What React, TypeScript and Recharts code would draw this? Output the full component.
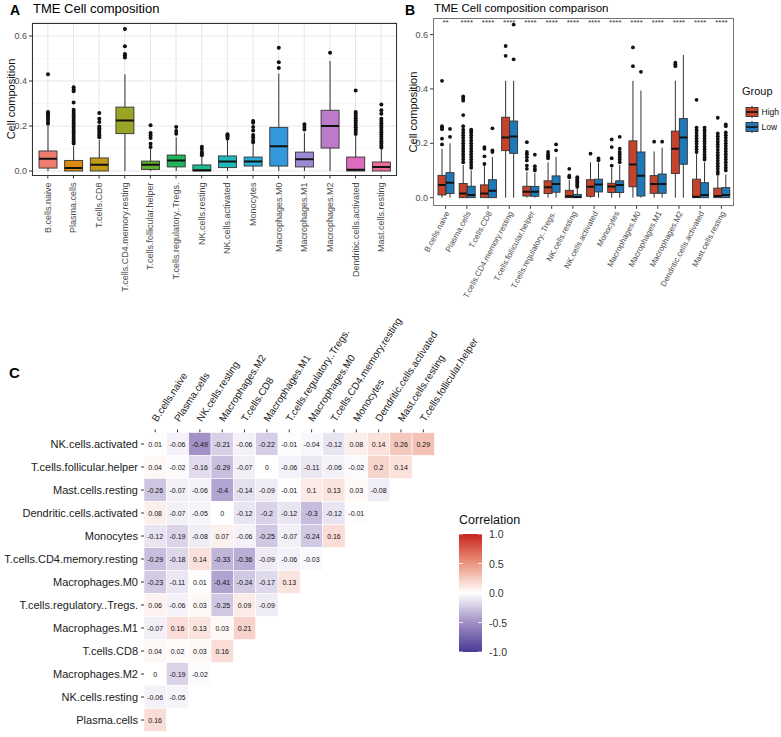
import React from 'react';
import { ComposedChart, ScatterChart, Bar, Scatter, XAxis, YAxis, CartesianGrid } from 'recharts';

// ---- shared categories ----
const CELLS = [
  'B.cells.naive', 'Plasma.cells', 'T.cells.CD8', 'T.cells.CD4.memory.resting',
  'T.cells.follicular.helper', 'T.cells.regulatory..Tregs.', 'NK.cells.resting',
  'NK.cells.activated', 'Monocytes', 'Macrophages.M0', 'Macrophages.M1',
  'Macrophages.M2', 'Dendritic.cells.activated', 'Mast.cells.resting',
];
const CELL_COLORS = [
  '#EE7B6E', '#DB8A0E', '#C29A18', '#9AA528', '#5FAF32', '#21B45A', '#1FB98F',
  '#21B8B8', '#29AEDB', '#3398DC', '#9C89D6', '#BB7BC9', '#DD6CBE', '#EE6B9E',
];
const Y_TICKS = [0, 0.2, 0.4, 0.6];
const MINOR_TICKS = [0.1, 0.3, 0.5];

// ---- panel A: box stats ----
const A_LO = [0, 0, 0, 0, 0, 0, 0, 0, 0, 0, 0, 0, 0, 0];
const A_Q1 = [0.013, 0, 0, 0.166, 0.007, 0.018, 0, 0.015, 0.022, 0.022, 0.018, 0.102, 0, 0];
const A_MED = [0.055, 0.013, 0.028, 0.225, 0.028, 0.047, 0.003, 0.042, 0.042, 0.11, 0.052, 0.2, 0.006, 0.018];
const A_Q3 = [0.089, 0.047, 0.058, 0.284, 0.044, 0.071, 0.027, 0.067, 0.062, 0.194, 0.084, 0.27, 0.062, 0.04];
const A_HI = [0.2, 0.11, 0.138, 0.43, 0.1, 0.15, 0.062, 0.14, 0.12, 0.433, 0.17, 0.489, 0.156, 0.1];
const A_OUT = [
  [0.43, 0.262, 0.256, 0.248, 0.238, 0.228, 0.218, 0.21],
  [0.372, 0.362, 0.355, 0.304, 0.272, 0.262, 0.252, 0.242, 0.232, 0.222, 0.212, 0.202, 0.192, 0.182, 0.172, 0.162, 0.152, 0.142, 0.132, 0.122],
  [0.258, 0.232, 0.218, 0.198, 0.19, 0.182, 0.174, 0.166, 0.158, 0.15],
  [0.631, 0.554, 0.52, 0.514, 0.505],
  [0.203, 0.169, 0.158, 0.147, 0.121, 0.107],
  [0.196, 0.178, 0.166],
  [0.108, 0.098, 0.085, 0.077, 0.07],
  [0.163, 0.158, 0.152, 0.145],
  [0.222, 0.215, 0.196, 0.18, 0.16, 0.15, 0.138, 0.128],
  [0.548, 0.483, 0.458],
  [0.208, 0.196, 0.184],
  [0.526],
  [0.358, 0.262, 0.255, 0.245, 0.235, 0.225, 0.215, 0.205, 0.195, 0.185, 0.175, 0.165],
  [0.296, 0.27, 0.255, 0.232, 0.222, 0.212, 0.202, 0.192, 0.182, 0.172, 0.162, 0.152, 0.142, 0.132, 0.122, 0.112, 0.104],
];

// ---- panel B: High / Low groups ----
const GROUPS = ['High', 'Low'];
const GROUP_COLORS = ['#C4432B', '#1F78B8'];
const SIG = ['**', '****', '****', '****', '****', '****', '****', '****', '****', '****', '****', '****', '****', '****'];
const SIG_POS = 0.65;

const H_LO = [0, 0, 0, 0, 0, 0, 0, 0, 0, 0, 0, 0, 0, 0];
const H_Q1 = [0.01, 0, 0, 0.173, 0.006, 0.015, 0, 0.005, 0.019, 0.04, 0.016, 0.089, 0, 0];
const H_MED = [0.047, 0.015, 0.015, 0.221, 0.022, 0.038, 0.005, 0.04, 0.041, 0.122, 0.05, 0.18, 0.003, 0.006];
const H_Q3 = [0.082, 0.052, 0.047, 0.296, 0.042, 0.062, 0.027, 0.066, 0.053, 0.209, 0.081, 0.245, 0.068, 0.035];
const H_HI = [0.18, 0.12, 0.12, 0.43, 0.095, 0.13, 0.065, 0.13, 0.11, 0.43, 0.17, 0.43, 0.16, 0.08];
const H_OUT = [
  [0.43, 0.263, 0.258, 0.252, 0.217, 0.196],
  [0.373, 0.365, 0.357, 0.304, 0.263, 0.25, 0.24, 0.23, 0.22, 0.21, 0.2, 0.19, 0.18, 0.17, 0.16, 0.15, 0.14, 0.13],
  [0.186, 0.18, 0.152, 0.124],
  [0.558, 0.522],
  [0.204, 0.168, 0.16, 0.149, 0.137, 0.118, 0.106],
  [0.168, 0.159, 0.152, 0.145],
  [0.106, 0.081, 0.075],
  [0.162],
  [0.214, 0.186, 0.145, 0.118],
  [0.553, 0.484],
  [0.206],
  [0.497, 0.491, 0.484],
  [0.36, 0.258, 0.248, 0.238, 0.228, 0.218, 0.208, 0.198, 0.188, 0.178, 0.168],
  [0.294, 0.236, 0.226, 0.216, 0.206, 0.196, 0.186, 0.176, 0.166, 0.156, 0.146, 0.136, 0.126, 0.116, 0.106, 0.096, 0.088],
];

const L_LO = [0, 0, 0, 0, 0, 0, 0, 0, 0, 0, 0, 0, 0, 0];
const L_Q1 = [0.015, 0, 0, 0.163, 0.005, 0.02, 0, 0.021, 0.019, 0.006, 0.016, 0.123, 0, 0];
const L_MED = [0.055, 0.01, 0.025, 0.225, 0.022, 0.05, 0.002, 0.048, 0.047, 0.081, 0.05, 0.221, 0.01, 0.01];
const L_Q3 = [0.092, 0.042, 0.066, 0.282, 0.041, 0.08, 0.012, 0.068, 0.062, 0.168, 0.087, 0.291, 0.055, 0.037];
const L_HI = [0.2, 0.1, 0.15, 0.43, 0.09, 0.15, 0.035, 0.13, 0.12, 0.394, 0.184, 0.525, 0.13, 0.085];
const L_OUT = [
  [0.253, 0.224],
  [0.25, 0.245, 0.24, 0.23, 0.22, 0.21, 0.2, 0.19, 0.18, 0.17, 0.16, 0.15, 0.14, 0.13, 0.12, 0.11],
  [0.255, 0.174, 0.168],
  [0.637, 0.509],
  [0.158, 0.116, 0.106, 0.1],
  [0.196, 0.174],
  [0.075, 0.07, 0.065, 0.06, 0.055, 0.05, 0.045, 0.04],
  [0.144, 0.138],
  [0.224, 0.18, 0.168, 0.16, 0.15, 0.14, 0.13],
  [0.463],
  [0.206],
  [],
  [0.258, 0.248, 0.238, 0.228, 0.218, 0.208, 0.198, 0.188, 0.178, 0.168, 0.158, 0.148, 0.14],
  [0.27, 0.263, 0.24, 0.23, 0.22, 0.21, 0.2, 0.19, 0.18, 0.17, 0.16, 0.15, 0.14, 0.13, 0.12, 0.11, 0.1],
];

// ---- panel C: correlation triangle ----
const COLS = [
  'B.cells.naive', 'Plasma.cells', 'NK.cells.resting', 'Macrophages.M2', 'T.cells.CD8',
  'Macrophages.M1', 'T.cells.regulatory..Tregs.', 'Macrophages.M0', 'T.cells.CD4.memory.resting',
  'Monocytes', 'Dendritic.cells.activated', 'Mast.cells.resting', 'T.cells.follicular.helper',
];
const ROWS = [
  'NK.cells.activated', 'T.cells.follicular.helper', 'Mast.cells.resting', 'Dendritic.cells.activated',
  'Monocytes', 'T.cells.CD4.memory.resting', 'Macrophages.M0', 'T.cells.regulatory..Tregs.',
  'Macrophages.M1', 'T.cells.CD8', 'Macrophages.M2', 'NK.cells.resting', 'Plasma.cells',
];
const CORR = [
  [0.01, -0.06, -0.49, -0.21, -0.06, -0.22, -0.01, -0.04, -0.12, 0.08, 0.14, 0.26, 0.29],
  [0.04, -0.02, -0.16, -0.29, -0.07, 0, -0.06, -0.11, -0.06, -0.02, 0.2, 0.14],
  [-0.26, -0.07, -0.06, -0.4, -0.14, -0.09, -0.01, 0.1, 0.13, 0.03, -0.08],
  [0.08, -0.07, -0.05, 0, -0.12, -0.2, -0.12, -0.3, -0.12, -0.01],
  [-0.12, -0.19, -0.08, 0.07, -0.06, -0.25, -0.07, -0.24, 0.16],
  [-0.29, -0.18, 0.14, -0.33, -0.36, -0.09, -0.06, -0.03],
  [-0.23, -0.11, 0.01, -0.41, -0.24, -0.17, 0.13],
  [0.06, -0.06, 0.03, -0.25, 0.09, -0.09],
  [-0.07, 0.16, 0.13, 0.03, 0.21],
  [0.04, 0.02, 0.03, 0.16],
  [0, -0.19, -0.02],
  [-0.06, -0.05],
  [0.16],
];
const CORR_STOPS = [-1, -0.5, 0, 0.5, 1];
const CORR_RGB = [[74, 58, 148], [160, 143, 198], [255, 255, 255], [236, 150, 128], [200, 36, 30]];
const LEGEND_TICKS = [1, 0.5, 0, -0.5, -1];

const FONT = '"Liberation Sans", Arial, Helvetica, sans-serif';

function corrColor(v: number) {
  let k = 0;
  while (k < CORR_STOPS.length - 2 && v > CORR_STOPS[k + 1]) k++;
  const t = (v - CORR_STOPS[k]) / (CORR_STOPS[k + 1] - CORR_STOPS[k]);
  const c = CORR_RGB[k].map((a, j) => Math.round(a + (CORR_RGB[k + 1][j] - a) * t));
  return `rgb(${c.join(',')})`;
}

type Stats = { lo: number; q1: number; med: number; q3: number; hi: number; out: number[] };

// the bar spans [lo, hi] on the y scale; the rest of the box is placed on that same scale
function drawBox(p: any, s: Stats, fill: string, r: number) {
  const { x, y, width, height } = p;
  const py = (v: number) => y + (height * (s.hi - v)) / (s.hi - s.lo);
  const cx = x + width / 2;
  const top = py(s.q3);
  const bot = py(s.q1);
  return (
    <g>
      <line x1={cx} x2={cx} y1={py(s.hi)} y2={py(s.lo)} stroke="#333" strokeWidth={1} />
      <rect x={x} y={top} width={width} height={Math.max(bot - top, 0.8)} fill={fill} stroke="#333" strokeWidth={0.9} />
      <line x1={x} x2={x + width} y1={py(s.med)} y2={py(s.med)} stroke="#111" strokeWidth={2} />
      {s.out.map((v, k) => (
        <circle key={k} cx={cx} cy={py(v)} r={r} fill="#111" />
      ))}
    </g>
  );
}

const dataA = CELLS.map((name, i) => ({
  name, lo: A_LO[i], q1: A_Q1[i], med: A_MED[i], q3: A_Q3[i], hi: A_HI[i], out: A_OUT[i], idx: i,
}));

const dataB = CELLS.map((name, i) => ({
  name,
  star: SIG_POS,
  sig: SIG[i],
  high: { lo: H_LO[i], q1: H_Q1[i], med: H_MED[i], q3: H_Q3[i], hi: H_HI[i], out: H_OUT[i] },
  low: { lo: L_LO[i], q1: L_Q1[i], med: L_MED[i], q3: L_Q3[i], hi: L_HI[i], out: L_OUT[i] },
}));

const dataC = CORR.flatMap((row, r) => row.map((v, c) => ({ col: c, row: r, v })));
const COL_IDX = COLS.map((_, i) => i);
const ROW_IDX = ROWS.map((_, i) => i);
const CELL_W = 290.5 / COLS.length;
const CELL_H = 299 / ROWS.length;

const tickA = ({ x, y, payload }: any) => (
  <text x={x} y={y + 2} transform={`rotate(-90 ${x} ${y + 2})`} textAnchor="end" dominantBaseline="central" fontSize={9} fill="#4d4d4d">
    {payload.value}
  </text>
);

const tickB = ({ x, y, payload }: any) => (
  <text x={x + 2} y={y + 1} transform={`rotate(-62 ${x + 2} ${y + 1})`} textAnchor="end" dominantBaseline="central" fontSize={8} fill="#4d4d4d">
    {payload.value}
  </text>
);

const tickC = ({ x, y, payload }: any) => (
  <text x={x - 1} y={y - 3} transform={`rotate(-57 ${x - 1} ${y - 3})`} textAnchor="start" dominantBaseline="central" fontSize={10} fill="#1a1a1a">
    {COLS[payload.value]}
  </text>
);

const yTickStyle = { fontSize: 9, fill: '#4d4d4d' };

export default function App() {
  return (
    <div style={{ position: 'absolute', left: 0, top: 0, width: 781, height: 737, background: '#fff', overflow: 'hidden', fontFamily: FONT }}>
      {/* panel A */}
      <div style={{ position: 'absolute', left: 10, top: 2, fontSize: 14, fontWeight: 'bold' }}>A</div>
      <div style={{ position: 'absolute', left: 33, top: 1, fontSize: 13 }}>TME Cell composition</div>
      <div style={{ position: 'absolute', left: 0, top: 0 }}>
        <ComposedChart width={400} height={300} data={dataA} margin={{ top: 22.5, right: 3, bottom: 0, left: 0 }}>
          <CartesianGrid horizontalValues={MINOR_TICKS} vertical={false} stroke="#F3F3F3" strokeWidth={0.6} />
          <CartesianGrid stroke="#E6E6E6" strokeWidth={1} />
          <XAxis dataKey="name" interval={0} height={124.5} tick={tickA} tickSize={3} axisLine={false} tickLine={{ stroke: '#333' }} padding={{ left: 3, right: 3 }} />
          <YAxis
            domain={[-0.02, 0.66]}
            allowDataOverflow
            ticks={Y_TICKS}
            width={32}
            tickSize={3}
            tickMargin={2}
            tickFormatter={(v: number) => v.toFixed(1)}
            tick={yTickStyle}
            axisLine={false}
            tickLine={{ stroke: '#333' }}
            label={{ value: 'Cell composition', angle: -90, position: 'insideLeft', offset: 11, style: { textAnchor: 'middle', fontSize: 11, fill: '#111' } }}
          />
          <Bar
            dataKey={(d: any) => [d.lo, d.hi]}
            barSize={18}
            isAnimationActive={false}
            shape={(p: any) => drawBox(p, p.payload, CELL_COLORS[p.payload.idx], 2)}
          />
        </ComposedChart>
      </div>
      <div style={{ position: 'absolute', left: 32, top: 22.5, width: 365, height: 153, border: '1px solid #333', boxSizing: 'border-box' }} />

      {/* panel B */}
      <div style={{ position: 'absolute', left: 405, top: 2, fontSize: 14, fontWeight: 'bold' }}>B</div>
      <div style={{ position: 'absolute', left: 434, top: 2, fontSize: 11.5 }}>TME Cell composition comparison</div>
      <div style={{ position: 'absolute', left: 400, top: 0 }}>
        <ComposedChart width={381} height={300} data={dataB} margin={{ top: 18.3, right: 47, bottom: 0, left: 0 }} barGap={0}>
          <XAxis dataKey="name" interval={0} height={94.2} tick={tickB} tickSize={3} axisLine={false} tickLine={{ stroke: '#333' }} padding={{ left: 2, right: 2 }} />
          <YAxis
            domain={[-0.03, 0.66]}
            allowDataOverflow
            ticks={Y_TICKS}
            width={33}
            tickSize={3}
            tickMargin={2}
            tickFormatter={(v: number) => v.toFixed(1)}
            tick={yTickStyle}
            axisLine={false}
            tickLine={{ stroke: '#333' }}
            label={{ value: 'Cell composition', angle: -90, position: 'insideLeft', offset: 13, style: { textAnchor: 'middle', fontSize: 11, fill: '#111' } }}
          />
          <Bar dataKey={(d: any) => [d.high.lo, d.high.hi]} barSize={8} isAnimationActive={false} shape={(p: any) => drawBox(p, p.payload.high, GROUP_COLORS[0], 1.9)} />
          <Bar dataKey={(d: any) => [d.low.lo, d.low.hi]} barSize={8} isAnimationActive={false} shape={(p: any) => drawBox(p, p.payload.low, GROUP_COLORS[1], 1.9)} />
          <Scatter
            dataKey="star"
            isAnimationActive={false}
            shape={(p: any) => (
              <text x={p.cx} y={p.cy + 1} textAnchor="middle" dominantBaseline="central" fontSize={8} fill="#333">
                {p.payload.sig}
              </text>
            )}
          />
        </ComposedChart>
      </div>
      <div style={{ position: 'absolute', left: 433, top: 18.3, width: 301, height: 187.5, border: '1px solid #777', boxSizing: 'border-box' }} />
      <svg style={{ position: 'absolute', left: 735, top: 84 }} width={46} height={52}>
        <text x={7} y={11} fontSize={11} fill="#111">Group</text>
        {GROUPS.map((g, i) => (
          <g key={g} transform={`translate(0 ${28 + i * 15})`}>
            <line x1={17} x2={17} y1={-6} y2={6} stroke="#333" strokeWidth={1} />
            <rect x={11} y={-4.5} width={12} height={9} fill={GROUP_COLORS[i]} stroke="#333" strokeWidth={0.9} />
            <line x1={11} x2={23} y1={0} y2={0} stroke="#111" strokeWidth={1.6} />
            <text x={26.5} y={0} dominantBaseline="central" fontSize={8.5} fill="#111">{g}</text>
          </g>
        ))}
      </svg>

      {/* panel C */}
      <div style={{ position: 'absolute', left: 9, top: 364, fontSize: 15, fontWeight: 'bold' }}>C</div>
      <div style={{ position: 'absolute', left: 0, top: 306, width: 520, height: 431, overflow: 'hidden' }}>
        <ScatterChart width={520} height={431} margin={{ top: 16.5, right: 85.5, bottom: 5.5, left: 4 }}>
          <XAxis
            type="number"
            dataKey="col"
            orientation="top"
            domain={[-0.5, 12.5]}
            allowDataOverflow
            ticks={COL_IDX}
            interval={0}
            height={110}
            tick={tickC}
            tickSize={3}
            tickMargin={6}
            axisLine={false}
            tickLine={{ stroke: '#333' }}
          />
          <YAxis
            type="number"
            dataKey="row"
            reversed
            domain={[-0.5, 12.5]}
            allowDataOverflow
            ticks={ROW_IDX}
            interval={0}
            width={140}
            tickFormatter={(i: number) => ROWS[i]}
            tick={{ fontSize: 11, fill: '#1a1a1a' }}
            tickSize={3}
            tickMargin={3}
            axisLine={false}
            tickLine={{ stroke: '#333' }}
          />
          <Scatter
            data={dataC}
            isAnimationActive={false}
            shape={(p: any) => (
              <g>
                <rect x={p.cx - CELL_W / 2} y={p.cy - CELL_H / 2} width={CELL_W} height={CELL_H} fill={corrColor(p.payload.v)} stroke="#fff" strokeWidth={0.6} />
                <text x={p.cx} y={p.cy} textAnchor="middle" dominantBaseline="central" fontSize={7} fill="#111">
                  {String(p.payload.v)}
                </text>
              </g>
            )}
          />
        </ScatterChart>
      </div>

      {/* correlation colour bar */}
      <svg style={{ position: 'absolute', left: 452, top: 505 }} width={80} height={160}>
        <defs>
          <linearGradient id="corrGrad" x1="0" y1="0" x2="0" y2="1">
            {LEGEND_TICKS.map((v) => (
              <stop key={v} offset={`${((1 - v) / 2) * 100}%`} stopColor={corrColor(v)} />
            ))}
          </linearGradient>
        </defs>
        <text x={7} y={19} fontSize={12.5} fill="#111">Correlation</text>
        <rect x={7} y={29} width={23} height={118} fill="url(#corrGrad)" />
        {LEGEND_TICKS.map((v) => {
          const ty = 29 + ((1 - v) / 2) * 118;
          return (
            <g key={v}>
              <line x1={7} x2={11} y1={ty} y2={ty} stroke="#fff" strokeWidth={0.8} />
              <line x1={26} x2={30} y1={ty} y2={ty} stroke="#fff" strokeWidth={0.8} />
              <text x={37} y={ty} dominantBaseline="central" fontSize={10.5} fill="#333">{v.toFixed(1)}</text>
            </g>
          );
        })}
      </svg>
    </div>
  );
}
